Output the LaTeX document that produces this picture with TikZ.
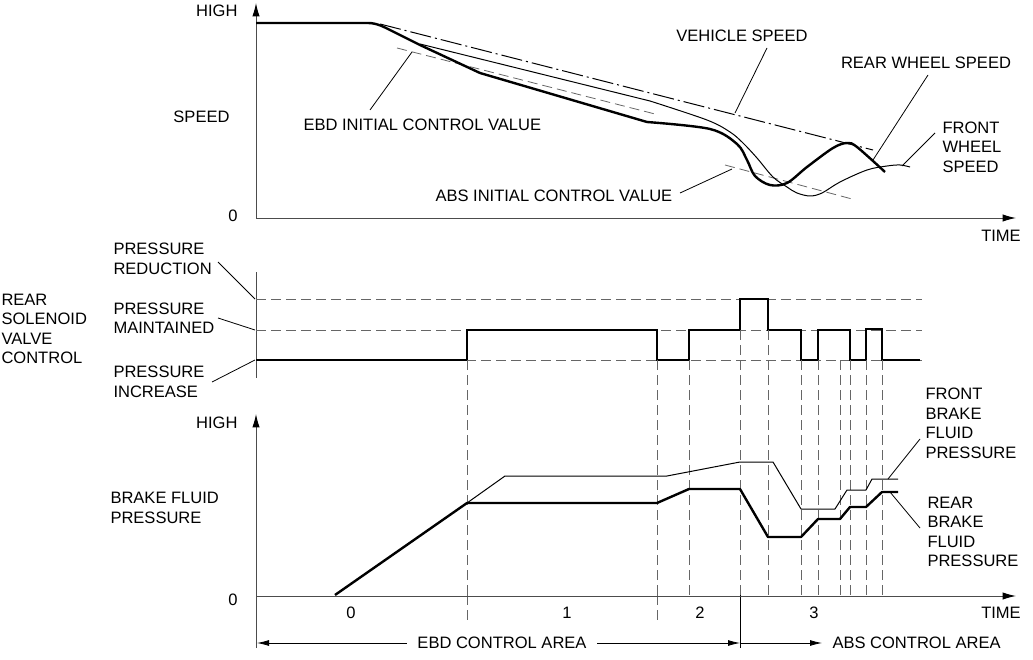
\documentclass[tikz,border=0pt]{standalone}
\usepackage{fontspec}
\setmainfont{Liberation Sans}
\usetikzlibrary{arrows.meta}

\tikzset{every picture/.style={line width=0.75pt}}
\tikzset{
  lbl/.style={font=\fontsize{12.4pt}{14.6pt}\selectfont, inner sep=0pt, align=left},
  axis/.style={draw=black!70, -{Latex[length=10pt,width=5.5pt,color=black]}},
  bold/.style={line width=1.8pt, line join=round},
  fine/.style={line width=0.75pt, line join=round},
  valve/.style={line width=1.3pt, line join=miter},
  guide/.style={draw=black!60, line width=0.6pt, dash pattern=on 7.5pt off 3.75pt},
  leader/.style={line width=0.6pt},
  area/.style={line width=0.6pt, -{Latex[length=9pt,width=4.5pt]}},
}

\begin{document}
\begin{tikzpicture}[x=0.75pt,y=0.75pt,yscale=-1,xscale=1]
	\path[use as bounding box] (0,0) rectangle (1033,660);

	%Shape: Axis 2D [id:speed]
	\draw[axis] (256,218) -- (256,3);
	\draw[axis] (256,218) -- (1016,218);
	%Dashed Lines [id:ebdinit]
	\draw[guide] (397,48) -- (655,114);
	%Dashed Lines [id:absinit]
	\draw[guide] (725,165) -- (852,199);
	%Dash Dot Lines [id:vehicle]
	\draw[fine, dash pattern=on 16pt off 3pt on 1.5pt off 3pt] (380,24) -- (873,150);
	%Curve Lines [id:front]
	\draw[fine] (420,44) -- (650,101) plot[smooth, tension=0.55] coordinates {(650,101) (707,120) (730,132) (743,143) (757,158) (773,177) (787,187) (797,193) (810,196) (822,193) (840,182) (867,170) (887,166) (900,165) (910,167)};
	%Curve Lines [id:rear]
	\draw[bold] (256,23) -- (368,23) .. controls (377,23) and (384,27) .. (392,31) -- (420,45) -- (480,73) -- (647,122);
	\draw[bold] plot[smooth, tension=0.55] coordinates {(647,122) (710,129) (737,144) (747,160) (755,176) (770,185) (787,183) (807,167) (833,148) (847,143) (857,147) (885,172)};

	% Text Node
	\node[lbl, anchor=east] (high1) at (238,11) {HIGH};
	\node[lbl, anchor=east] (speed) at (230,117) {SPEED};
	\node[lbl] (zero1) at (233,216) {0};
	\node[lbl] (time1) at (1001,236) {TIME};
	\node[lbl] (vehlbl) at (742,36) {VEHICLE SPEED};
	\node[lbl] (rearlbl) at (926,63) {REAR WHEEL SPEED};
	\node[lbl, anchor=west] (frontlbl) at (942,147) {FRONT\\WHEEL\\SPEED};
	\node[lbl, anchor=west] (ebdlbl) at (303,125) {EBD INITIAL CONTROL VALUE};
	\node[lbl, anchor=west] (abslbl) at (435,196) {ABS INITIAL CONTROL VALUE};

	%Straight Lines [id:leaders top]
	\coordinate (ebdfoot) at (370,110);   \coordinate (ebdtip) at (412,52);
	\coordinate (vehfoot) at (767,48);    \coordinate (vehtip) at (735,113);
	\coordinate (rearfoot) at (928,75);   \coordinate (reartip) at (873,160);
	\coordinate (frontfoot) at (935,133); \coordinate (fronttip) at (902,166);
	\coordinate (absfoot) at (680,193);   \coordinate (abstip) at (732,169);
	\draw[leader] (ebdfoot) -- (ebdtip);
	\draw[leader] (vehfoot) -- (vehtip);
	\draw[leader] (rearfoot) -- (reartip);
	\draw[leader] (frontfoot) -- (fronttip);
	\draw[leader] (absfoot) -- (abstip);

	%Shape: Axis [id:valve]
	\draw[draw=black!70] (256,272) -- (256,378);
	\draw[guide] (256,299) -- (922,299);
	\draw[guide] (256,330) -- (922,330);
	\draw[guide] (256,360) -- (922,360);
	%Straight Lines [id:valve signal]
	\draw[valve] (256,360) -- (467,360) -- (467,330) -- (657,330) -- (657,360) -- (689,360) -- (689,330) -- (740,330) -- (740,299) -- (768,299) -- (768,330) -- (801,330) -- (801,360) -- (818,360) -- (818,330) -- (850,330) -- (850,360) -- (866,360) -- (866,329) -- (882,329) -- (882,360) -- (920,360);

	% Text Node
	\node[lbl, anchor=west] (reduce) at (113,259) {PRESSURE\\REDUCTION};
	\node[lbl, anchor=west] (hold) at (113,318) {PRESSURE\\MAINTAINED};
	\node[lbl, anchor=west] (raise) at (113,382) {PRESSURE\\INCREASE};
	\node[lbl, anchor=west] (solenoid) at (1,329) {REAR\\SOLENOID\\VALVE\\CONTROL};
	\coordinate (reducefoot) at (218,262); \coordinate (reducetip) at (255,299);
	\coordinate (holdfoot) at (218,318);   \coordinate (holdtip) at (255,330);
	\coordinate (raisefoot) at (212,382);  \coordinate (raisetip) at (255,360);
	\draw[leader] (reducefoot) -- (reducetip);
	\draw[leader] (holdfoot) -- (holdtip);
	\draw[leader] (raisefoot) -- (raisetip);

	%Dashed Lines [id:phases]
	\foreach \t in {467,657,689,801,818,840,850,866,882}
	  \draw[guide] (\t,360) -- (\t,595);
	\foreach \t in {740,768}
	  \draw[guide] (\t,330) -- (\t,595);
	\draw[guide] (467,595) -- (467,620);
	\draw[guide] (657,595) -- (657,620);
	\draw[line width=0.6pt] (740,595) -- (740,648);

	%Shape: Axis 2D [id:pressure]
	\draw[axis] (256,648) -- (256,414);
	\draw[axis] (256,596) -- (1016,596);
	%Straight Lines [id:front pressure]
	\draw[fine] (467,503) -- (505,476) -- (667,476) -- (740,462) -- (773,462) -- (801,509) -- (835,509) -- (847,490) -- (866,490) -- (872,479) -- (898,479);
	%Straight Lines [id:rear pressure]
	\draw[bold] (335,595) -- (467,503) -- (657,503) -- (689,489) -- (740,489) -- (768,537) -- (801,537) -- (818,519) -- (840,519) -- (850,507) -- (866,507) -- (882,492) -- (898,492);

	% Text Node
	\node[lbl, anchor=east] (high2) at (238,423) {HIGH};
	\node[lbl, anchor=west] (brake) at (110,508) {BRAKE FLUID\\PRESSURE};
	\node[lbl] (zero2) at (233,600) {0};
	\node[lbl] (time2) at (1001,613) {TIME};
	\node[lbl] (ph0) at (351,613) {0};
	\node[lbl] (ph1) at (567,613) {1};
	\node[lbl] (ph2) at (700,613) {2};
	\node[lbl] (ph3) at (814,613) {3};
	\node[lbl, anchor=west] (frontp) at (925,423.5) {FRONT\\BRAKE\\FLUID\\PRESSURE};
	\node[lbl, anchor=west] (rearp) at (927,532) {REAR\\BRAKE\\FLUID\\PRESSURE};
	\coordinate (frontpfoot) at (920,439); \coordinate (frontptip) at (888,479);
	\coordinate (rearpfoot) at (920,528);  \coordinate (rearptip) at (890,492);
	\draw[leader] (frontpfoot) -- (frontptip);
	\draw[leader] (rearpfoot) -- (rearptip);

	%Arrows [id:areas]
	\node[lbl] (ebdarea) at (502,643) {EBD CONTROL AREA};
	\node[lbl, anchor=west] (absarea) at (832,643) {ABS CONTROL AREA};
	\coordinate (ebdstart) at (257,643);
	\coordinate (split) at (740,643);
	\draw[area] ([xshift=-7.5pt]ebdarea.west) -- (ebdstart);
	\draw[area] ([xshift=7.5pt]ebdarea.east) -- (split);
	\draw[area] (split) -- ([xshift=-7.5pt]absarea.west);

\end{tikzpicture}
\end{document}
